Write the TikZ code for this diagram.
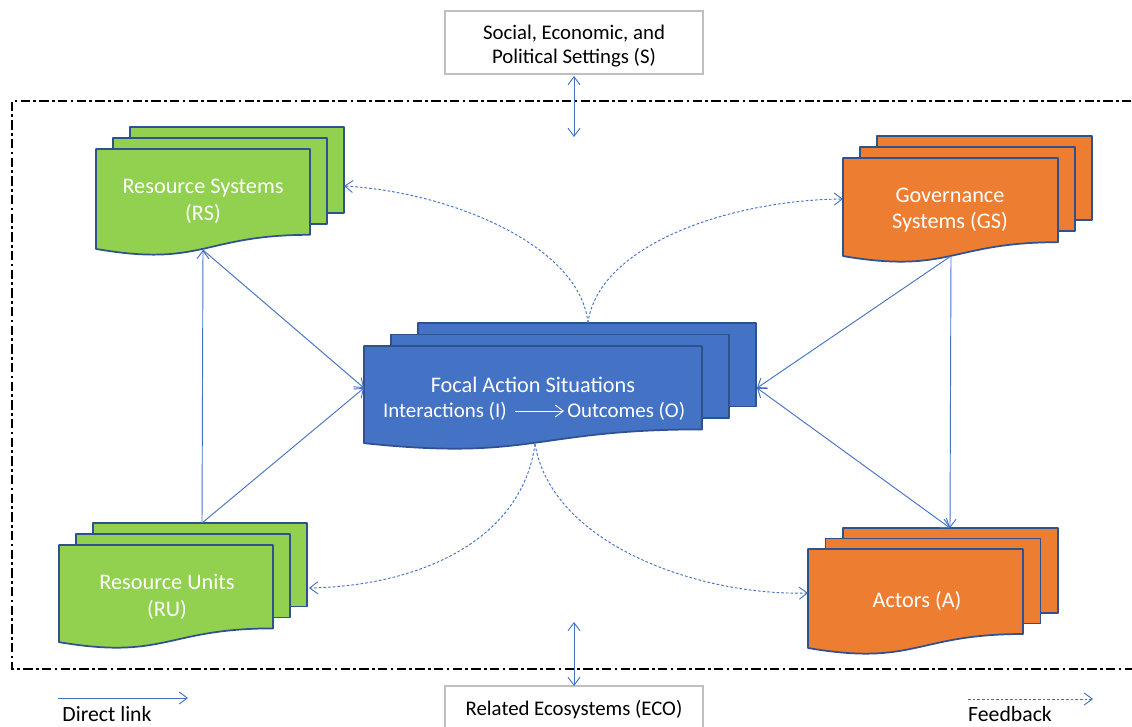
\documentclass[tikz,border=0pt]{standalone}
\usepackage{fontspec}
\setmainfont{Carlito}
\usetikzlibrary{arrows.meta,calc}
\definecolor{lnblue}{HTML}{4472C4}
\definecolor{bdblue}{HTML}{2F528F}
\definecolor{rsgreen}{HTML}{92D050}
\definecolor{gsorange}{HTML}{ED7D31}
\definecolor{fablue}{HTML}{4472C4}
\definecolor{boxgray}{HTML}{BFBFBF}
\tikzset{
  docedge/.style={draw=bdblue, line width=1.3pt, line join=round},
  shapetext/.style={text=white, align=center, font=\fontsize{16.7}{20}\selectfont, inner sep=0pt},
  smalltext/.style={text=white, font=\fontsize{15.7}{19}\selectfont, inner sep=0pt},
  boxtext/.style={text=black, align=center, font=\fontsize{15.6}{18}\selectfont, inner sep=0pt},
  legtext/.style={text=black, font=\fontsize{16.3}{19}\selectfont, inner sep=0pt},
  graybox/.style={draw=boxgray, line width=1.1pt, fill=white},
  tipv/.tip={Straight Barb[length=6pt,width=9pt]},
  direct/.style={draw=lnblue, line width=0.7pt, -tipv},
  twoway/.style={draw=lnblue, line width=0.7pt, tipv-tipv},
  feedback/.style={draw=lnblue, line width=0.7pt, dash pattern=on 2pt off 1.5pt, -{Straight Barb[length=6pt,width=9pt,line width=0.7pt]}},
  frame/.style={draw=black, line width=1.5pt, dash pattern=on 7pt off 2.5pt on 2pt off 2.5pt}
}
\newcommand\docstack[7]{%
  \foreach \k in {2,1} {
    \filldraw[docedge, fill=#7] ({#1+\k*(#5)},{#2+\k*(#6)}) rectangle ({#1+\k*(#5)+#3},{#2+\k*(#6)+0.802*#4});
  }
  \filldraw[docedge, fill=#7] (#1,#2) -- ({#1+#3},#2) -- ({#1+#3},{#2+0.802*#4})
    .. controls ({#1+0.5*#3},{#2+0.802*#4}) and ({#1+0.5*#3},{#2+1.1075*#4}) .. (#1,{#2+0.934*#4}) -- cycle;
}
\begin{document}
\begin{tikzpicture}[x=0.75pt,y=-0.75pt]
\useasboundingbox (0,0) rectangle (1132,727);
\clip (0,0) rectangle (1132,727);
\fill[white] (0,0) rectangle (1132,727);

% outer frame (right side lies beyond the picture)
\draw[frame] (1150,101) -- (12,101) -- (12,669) -- (1150,669);

% settings boxes
\draw[graybox] (445,11) rectangle (703,74);
\node[boxtext] (S) at (574,46.5) {Social, Economic, and\\Political Settings (S)};
\draw[graybox] (445,686) rectangle (703,740);
\node[boxtext] (ECO) at (574,710) {Related Ecosystems (ECO)};

% document stacks
\docstack{96}{149}{214}{107}{17}{-11}{rsgreen}
\docstack{843}{158}{215}{105}{17}{-11}{gsorange}
\docstack{364}{346}{338}{104}{27}{-11.5}{fablue}
\docstack{59}{545}{214}{104}{17}{-11}{rsgreen}
\docstack{808}{549}{215}{106}{17.5}{-10.5}{gsorange}

\node[shapetext] (RS) at (203,201) {Resource Systems\\(RS)};
\node[shapetext] (GS) at (950,210) {Governance\\Systems (GS)};
\node[shapetext] (RU) at (167,597) {Resource Units\\(RU)};
\node[shapetext] (A) at (917,601) {Actors (A)};
\node[shapetext] (FAS) at (533,385) {Focal Action Situations};
\node[smalltext, anchor=east] (I) at (507,411) {Interactions (I)};
\node[smalltext, anchor=west] (O) at (567,411) {Outcomes (O)};
\draw[white, line width=0.7pt, -tipv] ($(I.east)+(8,0)$) -- ($(O.west)+(-3,0)$);

% anchor points
\coordinate (RSbot) at (203,250);
\coordinate (RUtop) at (202,523);
\coordinate (FAleft) at (364,388);
\coordinate (FAright) at (757,388);
\coordinate (GSbot) at (951,256);
\coordinate (Atop) at (950,528);
\coordinate (FAtop) at (588,323);
\coordinate (FAbot) at (535,444);
\coordinate (RSright) at (344,186);
\coordinate (GSleft) at (843,199);
\coordinate (RUright) at (309,588);
\coordinate (Aleft) at (808,593);
\coordinate (Sbot) at (574,76);
\coordinate (Send) at (574,137);
\coordinate (ECOtop) at (574,686);
\coordinate (ECOend) at (574,622);

% direct links
\draw[direct] (RUtop) -- (RSbot);
\draw[direct] (RUtop) -- (FAleft);
\draw[direct] (RSbot) -- (FAleft);
\draw[direct] (GSbot) -- (FAright);
\draw[direct] (GSbot) -- (Atop);
\draw[twoway] (FAright) -- (Atop);
\draw[twoway] (Sbot) -- (Send);
\draw[twoway] (ECOend) -- (ECOtop);

% feedbacks
\draw[feedback] (FAtop) .. controls (580,245) and (450,192) .. (RSright);
\draw[feedback] (FAtop) .. controls (598,245) and (730,200) .. (GSleft);
\draw[feedback] (FAbot) .. controls (522,540) and (420,586) .. (RUright);
\draw[feedback] (FAbot) .. controls (552,545) and (700,596) .. (Aleft);

% legend
\coordinate (DLa) at (58,698);
\coordinate (DLb) at (188,698);
\coordinate (FBa) at (968,699);
\coordinate (FBb) at (1093,699);
\draw[direct] (DLa) -- (DLb);
\draw[feedback] (FBa) -- (FBb);
\node[legtext] (DL) at (107,714.5) {Direct link};
\node[legtext] (FB) at (1010,714.5) {Feedback};
\end{tikzpicture}
\end{document}
